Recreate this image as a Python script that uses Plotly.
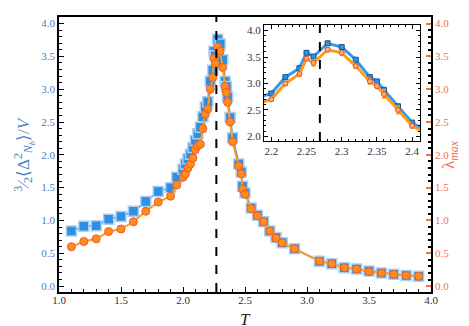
import plotly.graph_objects as go

# temperatures
T = [1.1, 1.2, 1.3, 1.4, 1.5, 1.6, 1.7, 1.8, 1.9, 1.95, 2.0, 2.02, 2.04, 2.06, 2.08,
     2.1, 2.12, 2.14, 2.16, 2.18, 2.2, 2.22, 2.24, 2.25, 2.26, 2.28, 2.3, 2.32, 2.34,
     2.35, 2.36, 2.38, 2.4, 2.45, 2.47, 2.48, 2.5, 2.55, 2.6, 2.65, 2.7, 2.75, 2.8,
     2.9, 3.1, 3.2, 3.3, 3.4, 3.5, 3.6, 3.7, 3.8, 3.9]

# 3/2 <Delta^2_Nb>/V
fluct = [0.84, 0.91, 0.92, 1.02, 1.06, 1.14, 1.29, 1.44, 1.50, 1.66, 1.78, 1.86, 1.94,
         2.01, 2.11, 2.22, 2.32, 2.42, 2.58, 2.73, 2.81, 3.12, 3.29, 3.58, 3.51, 3.76,
         3.69, 3.45, 3.12, 3.04, 2.88, 2.57, 2.26, 1.86, 1.74, 1.52, 1.42, 1.19, 1.08,
         0.98, 0.84, 0.74, 0.66, 0.57, 0.38, 0.34, 0.28, 0.26, 0.23, 0.20, 0.18, 0.16, 0.15]

# lambda_max
lam = [0.60, 0.68, 0.72, 0.83, 0.87, 0.98, 1.14, 1.28, 1.37, 1.54, 1.66, 1.71, 1.80,
       1.86, 1.95, 2.08, 2.14, 2.16, 2.40, 2.62, 2.70, 3.00, 3.18, 3.47, 3.39, 3.64,
       3.58, 3.33, 3.04, 2.95, 2.80, 2.50, 2.20, 1.83, 1.71, 1.48, 1.40, 1.18, 1.07,
       0.98, 0.84, 0.73, 0.66, 0.57, 0.38, 0.34, 0.28, 0.26, 0.22, 0.20, 0.18, 0.16, 0.15]

lam_err = [0.02, 0.02, 0.02, 0.02, 0.02, 0.02, 0.02, 0.02, 0.02, 0.02, 0.03, 0.03, 0.03,
           0.03, 0.03, 0.03, 0.03, 0.03, 0.03, 0.03, 0.03, 0.04, 0.04, 0.04, 0.06, 0.04,
           0.04, 0.04, 0.05, 0.04, 0.08, 0.07, 0.04, 0.03, 0.03, 0.03, 0.03, 0.02, 0.02,
           0.02, 0.02, 0.02, 0.02, 0.02, 0.01, 0.01, 0.01, 0.01, 0.01, 0.01, 0.01, 0.01, 0.01]

Tc = 2.269

main_x_ticks = [1.0, 1.5, 2.0, 2.5, 3.0, 3.5, 4.0]
main_y_ticks = [0.0, 0.5, 1.0, 1.5, 2.0, 2.5, 3.0, 3.5, 4.0]
inset_x_ticks = [2.2, 2.25, 2.3, 2.35, 2.4]
inset_x_labels = ["2.2", "2.25", "2.3", "2.35", "2.4"]
inset_y_ticks = [2.0, 2.5, 3.0, 3.5, 4.0]

BLUE = "#2f8fe0"
BLUE_EDGE = "#a9d0f2"
ORANGE = "#ff8c1f"
ORANGE_EDGE = "#f05a2a"
ORANGE_LINE = "#ff9c1e"
LEFT_LBL = "#4a80c4"
RIGHT_LBL = "#f07050"
FONT = "Liberation Serif"

fig = go.Figure()

# main panel
fig.add_trace(go.Scatter(x=T, y=fluct, mode="lines+markers", xaxis="x", yaxis="y",
                         line=dict(color="#3a9ae8", width=2),
                         marker=dict(symbol="square", size=10, color=BLUE,
                                     line=dict(color=BLUE_EDGE, width=1.5)),
                         showlegend=False))
fig.add_trace(go.Scatter(x=T, y=lam, mode="lines+markers", xaxis="x", yaxis="y2",
                         line=dict(color=ORANGE_LINE, width=2),
                         marker=dict(symbol="circle", size=8, color=ORANGE,
                                     line=dict(color=ORANGE_EDGE, width=1)),
                         showlegend=False))

# inset
fig.add_trace(go.Scatter(x=T, y=fluct, mode="lines+markers", xaxis="x2", yaxis="y3",
                         line=dict(color="#3399ee", width=3),
                         marker=dict(symbol="square", size=5, color=BLUE,
                                     line=dict(color="#1a5590", width=1)),
                         showlegend=False))
fig.add_trace(go.Scatter(x=T, y=lam, mode="lines+markers", xaxis="x2", yaxis="y3",
                         error_y=dict(type="data", array=lam_err, color=ORANGE_LINE,
                                      thickness=1.5, width=2),
                         line=dict(color=ORANGE_LINE, width=3),
                         marker=dict(symbol="circle", size=5, color="#ffb070",
                                     line=dict(color="#e8482a", width=1)),
                         showlegend=False))

# critical temperature lines
fig.add_shape(type="line", xref="x", yref="paper", x0=Tc, x1=Tc, y0=0, y1=1,
              line=dict(color="black", width=2, dash="dash"))
fig.add_shape(type="line", xref="x2", yref="y3 domain", x0=Tc, x1=Tc, y0=0, y1=1,
              line=dict(color="black", width=2, dash="dash"))

# axis titles as annotations for exact placement
fig.add_annotation(text="<i>T</i>", xref="paper", yref="paper", x=0.5, y=-0.06,
                   yanchor="top", showarrow=False, borderpad=0,
                   font=dict(family=FONT, size=17, color="#222222"))
fig.add_annotation(text="<sup>3</sup>⁄<sub>2</sub>⟨Δ<sup>2</sup><sub><i>N</i><sub><i>b</i></sub></sub>⟩/<i>V</i>",
                   xref="paper", yref="paper", x=-0.096, y=0.5, textangle=-90,
                   xanchor="center", yanchor="middle", showarrow=False,
                   font=dict(family=FONT, size=17, color=LEFT_LBL))
fig.add_annotation(text="λ<sub><i>max</i></sub>", xref="paper", yref="paper",
                   x=1.05, y=0.5, textangle=-90, xanchor="center", yanchor="middle",
                   showarrow=False, font=dict(family=FONT, size=17, color=RIGHT_LBL))

tickfont = dict(family=FONT, size=11, color="#333333")
yr = [-0.09, 4.1]

fig.update_layout(
    width=469, height=326,
    margin=dict(l=51, r=46, t=7, b=42),
    plot_bgcolor="white", paper_bgcolor="white",
    xaxis=dict(domain=[0, 1], range=[1.0, 4.0], tickvals=main_x_ticks, tickformat=".1f",
               ticks="inside", ticklen=5, tickwidth=1, tickcolor="black",
               ticklabelstandoff=-3,
               minor=dict(ticks="inside", dtick=0.1, ticklen=3, tickcolor="black"),
               showline=True, linecolor="black", linewidth=1.5, mirror=True,
               showgrid=False, zeroline=False, tickfont=tickfont),
    yaxis=dict(domain=[0, 1], range=yr, tickvals=main_y_ticks, tickformat=".1f",
               ticks="inside", ticklen=5, tickwidth=1, tickcolor="black",
               minor=dict(ticks="inside", dtick=0.1, ticklen=3, tickcolor="black"),
               showline=True, linecolor="black", linewidth=1.5,
               showgrid=False, zeroline=False,
               tickfont=dict(family=FONT, size=11, color=LEFT_LBL)),
    yaxis2=dict(overlaying="y", side="right", range=yr, tickvals=main_y_ticks,
                tickformat=".1f", ticks="inside", ticklen=5, tickwidth=1.5,
                tickcolor=RIGHT_LBL,
                minor=dict(ticks="inside", dtick=0.1, ticklen=3, tickcolor="black"),
                showline=True, linecolor="black", linewidth=1.5,
                showgrid=False, zeroline=False,
                tickfont=dict(family=FONT, size=11, color=RIGHT_LBL)),
    xaxis2=dict(domain=[0.551, 0.970], anchor="y3", range=[2.1896, 2.411],
                tickvals=inset_x_ticks, ticktext=inset_x_labels,
                ticks="inside", ticklen=4, tickcolor="black",
                minor=dict(ticks="inside", dtick=0.01, ticklen=2, tickcolor="black"),
                showline=True, linecolor="black", linewidth=1.2, mirror="ticks",
                showgrid=False, zeroline=False, tickfont=tickfont),
    yaxis3=dict(domain=[0.549, 0.971], anchor="x2", range=[1.912, 4.107],
                tickvals=inset_y_ticks, tickformat=".1f",
                ticks="inside", ticklen=4, tickcolor="black",
                minor=dict(ticks="inside", dtick=0.1, ticklen=2, tickcolor="black"),
                showline=True, linecolor="black", linewidth=1.2, mirror="ticks",
                showgrid=False, zeroline=False, tickfont=tickfont),
)

fig.write_html("out.html")
